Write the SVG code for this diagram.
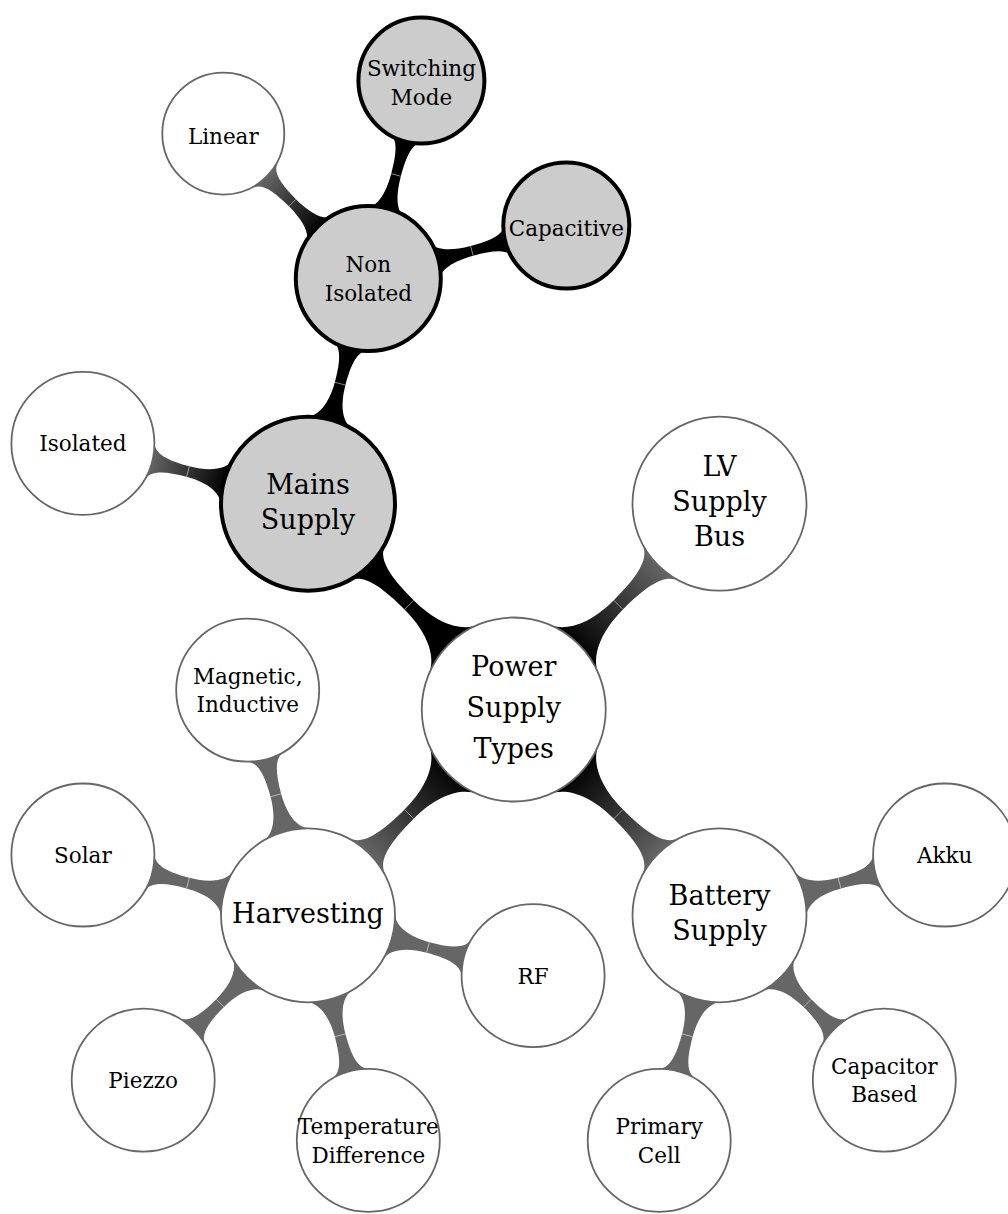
<svg xmlns="http://www.w3.org/2000/svg" xmlns:xlink="http://www.w3.org/1999/xlink" width="1008" height="1214" viewBox="0 0 1008 1214">
<style>
.n{fill:#fff;stroke:#666;stroke-width:1.8}
.m{fill:#ccc;stroke:#000;stroke-width:4}
.t1{font-family:"DejaVu Serif",serif;font-size:27px;text-anchor:middle;fill:#000}
.t2{font-family:"DejaVu Serif",serif;font-size:21.5px;text-anchor:middle;fill:#000}
.seam{stroke:#fff;stroke-opacity:0.6;stroke-width:0.8}
</style>
<defs>
<linearGradient id="bg" x1="0" y1="0" x2="1" y2="0"><stop offset="0" stop-color="#000"/><stop offset="1" stop-color="#666"/></linearGradient>
<g id="c1"><path d="M85.3,-34.5 C91.3,-19.7 112,-6.5 148,-6.5 C184,-6.5 203.5,-11.5 207.4,-26 L207.4,26 C203.5,11.5 184,6.5 148,6.5 C112,6.5 91.3,19.7 85.3,34.5 Z"/><line class="seam" x1="148" y1="-6.4" x2="148" y2="6.4"/></g>
<g id="c2"><path d="M83.6,-24 C86.9,-12.5 102.25,-5.5 124.25,-5.5 C146.25,-5.5 161,-8.2 164.3,-19.7 L164.3,19.7 C161,8.2 146.25,5.5 124.25,5.5 C102.25,5.5 86.9,12.5 83.6,24 Z"/><line class="seam" x1="124.25" y1="-5.5" x2="124.25" y2="5.5"/></g>
<g id="c3"><path d="M68.7,-19.7 C71.5,-10.1 86.25,-5 107.25,-5 C128.25,-5 142.6,-7.5 145.4,-17.1 L145.4,17.1 C142.6,7.5 128.25,5 107.25,5 C86.25,5 71.5,10.1 68.7,19.7 Z"/><line class="seam" x1="107.25" y1="-5" x2="107.25" y2="5"/></g>
</defs>
<rect width="1008" height="1214" fill="#fff"/>
<g id="connectors">
<use xlink:href="#c1" fill="#000" transform="translate(513.75,709.5) rotate(225)"/>
<use xlink:href="#c1" fill="url(#bg)" transform="translate(513.75,709.5) rotate(-45)"/>
<use xlink:href="#c1" fill="url(#bg)" transform="translate(513.75,709.5) rotate(135)"/>
<use xlink:href="#c1" fill="url(#bg)" transform="translate(513.75,709.5) rotate(45)"/>
<use xlink:href="#c2" fill="url(#bg)" transform="translate(308,503.7) rotate(195)"/>
<use xlink:href="#c2" fill="#000" transform="translate(308,503.7) rotate(-75)"/>
<use xlink:href="#c3" fill="url(#bg)" transform="translate(368.3,278.6) rotate(225)"/>
<use xlink:href="#c3" fill="#000" transform="translate(368.3,278.6) rotate(-75)"/>
<use xlink:href="#c3" fill="#000" transform="translate(368.3,278.6) rotate(-15)"/>
<use xlink:href="#c2" fill="#666" transform="translate(308,915.3) rotate(195)"/>
<use xlink:href="#c2" fill="#666" transform="translate(308,915.3) rotate(255)"/>
<use xlink:href="#c2" fill="#666" transform="translate(308,915.3) rotate(135)"/>
<use xlink:href="#c2" fill="#666" transform="translate(308,915.3) rotate(75)"/>
<use xlink:href="#c2" fill="#666" transform="translate(308,915.3) rotate(15)"/>
<use xlink:href="#c2" fill="#666" transform="translate(719.5,915.3) rotate(-15)"/>
<use xlink:href="#c2" fill="#666" transform="translate(719.5,915.3) rotate(45)"/>
<use xlink:href="#c2" fill="#666" transform="translate(719.5,915.3) rotate(105)"/>
</g>
<g id="root"><circle class="n" cx="513.75" cy="709.5" r="92"/><text class="t1"><tspan x="513.75" y="676">Power</tspan><tspan x="513.75" y="717">Supply</tspan><tspan x="513.75" y="758">Types</tspan></text></g>
<g id="mains"><circle class="m" cx="308" cy="503.7" r="87"/><text class="t1"><tspan x="308" y="493.7">Mains</tspan><tspan x="308" y="528.7">Supply</tspan></text></g>
<g id="lv"><circle class="n" cx="719.5" cy="503.7" r="87"/><text class="t1"><tspan x="719.5" y="476.2">LV</tspan><tspan x="719.5" y="511.2">Supply</tspan><tspan x="719.5" y="546.2">Bus</tspan></text></g>
<g id="harvesting"><circle class="n" cx="308" cy="915.3" r="87"/><text class="t1" x="308" y="922.8">Harvesting</text></g>
<g id="battery"><circle class="n" cx="719.5" cy="915.3" r="87"/><text class="t1"><tspan x="719.5" y="905.3">Battery</tspan><tspan x="719.5" y="940.3">Supply</tspan></text></g>
<g id="isolated"><circle class="n" cx="82.9" cy="443.4" r="71.5"/><text class="t2" x="82.9" y="451.4">Isolated</text></g>
<g id="nonisolated"><circle class="m" cx="368.3" cy="278.6" r="72.5"/><text class="t2"><tspan x="368.3" y="272.35">Non</tspan><tspan x="368.3" y="300.85">Isolated</tspan></text></g>
<g id="linear"><circle class="n" cx="223.3" cy="133.6" r="61"/><text class="t2" x="223.3" y="143.6">Linear</text></g>
<g id="switching"><circle class="m" cx="421.4" cy="80.6" r="63"/><text class="t2"><tspan x="421.4" y="76.35">Switching</tspan><tspan x="421.4" y="104.85">Mode</tspan></text></g>
<g id="capacitive"><circle class="m" cx="566.3" cy="225.5" r="63"/><text class="t2" x="566.3" y="235.5">Capacitive</text></g>
<g id="magnetic"><circle class="n" cx="247.7" cy="690.2" r="71.5"/><text class="t2"><tspan x="247.7" y="683.95">Magnetic,</tspan><tspan x="247.7" y="712.45">Inductive</tspan></text></g>
<g id="solar"><circle class="n" cx="82.9" cy="855" r="71.5"/><text class="t2" x="82.9" y="863">Solar</text></g>
<g id="piezzo"><circle class="n" cx="143.2" cy="1080.1" r="71.5"/><text class="t2" x="143.2" y="1088.1">Piezzo</text></g>
<g id="temperature"><circle class="n" cx="368.3" cy="1140.4" r="71.5"/><text class="t2"><tspan x="368.3" y="1134.15">Temperature</tspan><tspan x="368.3" y="1162.65">Difference</tspan></text></g>
<g id="rf"><circle class="n" cx="533.1" cy="975.6" r="71.5"/><text class="t2" x="533.1" y="983.6">RF</text></g>
<g id="akku"><circle class="n" cx="944.6" cy="855" r="71.5"/><text class="t2" x="944.6" y="863">Akku</text></g>
<g id="capacitor"><circle class="n" cx="884.3" cy="1080.1" r="71.5"/><text class="t2"><tspan x="884.3" y="1073.85">Capacitor</tspan><tspan x="884.3" y="1102.35">Based</tspan></text></g>
<g id="primary"><circle class="n" cx="659.2" cy="1140.4" r="71.5"/><text class="t2"><tspan x="659.2" y="1134.15">Primary</tspan><tspan x="659.2" y="1162.65">Cell</tspan></text></g>
</svg>
